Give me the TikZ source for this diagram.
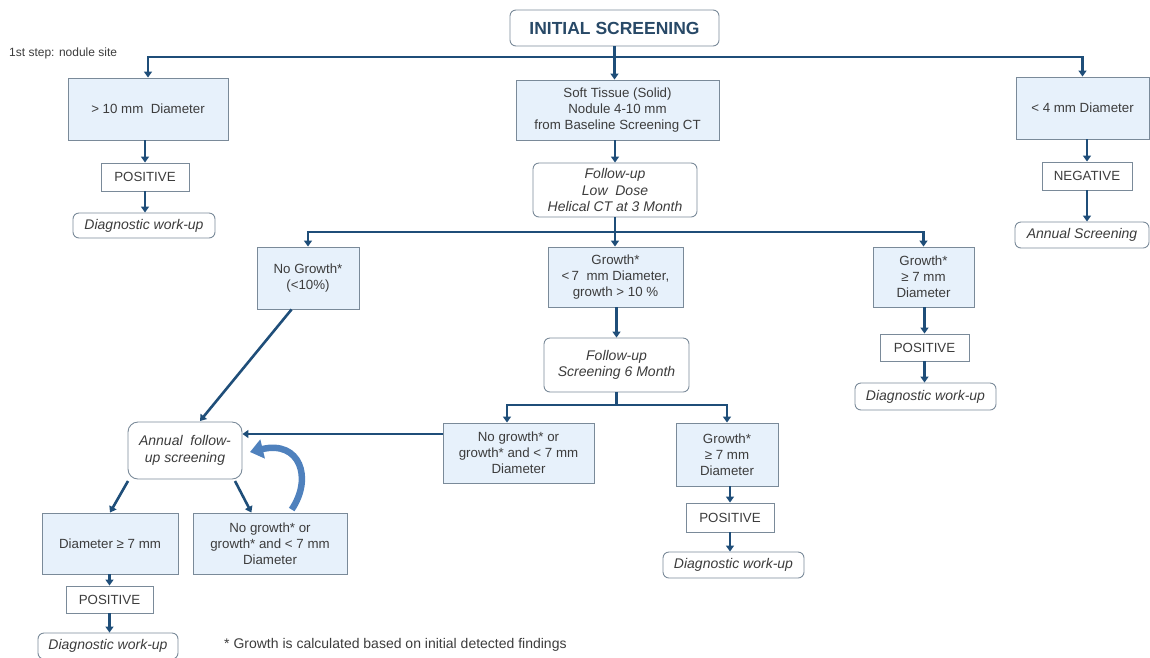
\documentclass[tikz,border=0pt]{standalone}
\usepackage{fontspec}
\setmainfont{Liberation Sans}
\usetikzlibrary{arrows.meta,calc}
\definecolor{flow}{HTML}{1F4E79}
\definecolor{boxline}{HTML}{7A8A99}
\definecolor{boxfill}{HTML}{E7F1FB}
\definecolor{ink}{HTML}{3C3C3C}
\definecolor{loopblue}{HTML}{4F81BD}
\begin{document}
\begin{tikzpicture}[x=1pt,y=-1pt,
  every node/.style={text=ink,font=\fontsize{13.3}{16}\selectfont,inner sep=0pt,align=center},
  bluebox/.style={draw=boxline,fill=boxfill,line width=0.9pt},
  plainbox/.style={draw=boxline,fill=white,line width=0.9pt},
  roundbox/.style={draw=boxline,fill=white,line width=0.9pt,rounded corners=6pt},
  note/.style={font=\itshape\fontsize{14}{16.5}\selectfont},
  arr/.style={draw=flow,line width=2.6pt,-{Triangle[width=8pt,length=6pt]}},
  plainline/.style={draw=flow,line width=2.6pt},
  sz/.style 2 args={minimum width=#1pt,minimum height=#2pt}]
\useasboundingbox (0,0) rectangle (1150,657);

% title and step label
\node[roundbox,sz={209}{36},font=\bfseries\fontsize{17.5}{20}\selectfont,text=flow!70!ink] (init) at (614.5,28) {INITIAL SCREENING};
\node[font=\fontsize{12}{14}\selectfont,anchor=west] (step) at (9,53) {1st step: nodule site};

% first level
\node[bluebox,sz={160}{62}] (big) at (148,109) {{>} 10 mm\ \ Diameter};
\node[plainbox,sz={88}{28}] (pos1) at (145,177) {POSITIVE};
\node[roundbox,sz={142}{25},note] (diag1) at (144,225.5) {Diagnostic work-up};

\node[bluebox,sz={203}{60}] (soft) at (617.5,110) {Soft Tissue (Solid)\\Nodule 4-10 mm\\from Baseline Screening CT};
\node[roundbox,sz={164}{54},note] (fu) at (615,190) {Follow-up\\Low\ \ Dose\\Helical CT at 3 Month};

\node[bluebox,sz={133}{62}] (small) at (1082.5,108) {{<} 4 mm Diameter};
\node[plainbox,sz={90}{28}] (neg) at (1087,176) {NEGATIVE};
\node[roundbox,sz={134}{26},note] (annS) at (1082,235) {Annual Screening};

% second level
\node[bluebox,sz={102}{62}] (nog) at (308,278) {No Growth*\\({<}10\%)};
\node[bluebox,sz={135}{60}] (g7) at (615.5,277) {Growth*\\{<}\,7\ \ mm Diameter,\\growth {>} 10 \%};
\node[roundbox,sz={145}{54},note] (fu6) at (616.5,365) {Follow-up\\Screening 6 Month};
\node[bluebox,sz={101}{60}] (gge) at (923.5,277) {Growth*\\≥ 7 mm\\Diameter};
\node[plainbox,sz={89}{27}] (pos2) at (924.5,347.5) {POSITIVE};
\node[roundbox,sz={141}{27},note] (diag2) at (925.5,396.5) {Diagnostic work-up};

% third level
\node[bluebox,sz={151}{60}] (nogm) at (518.5,453) {No growth* or\\growth* and {<} 7 mm\\Diameter};
\node[bluebox,sz={102}{63}] (gge2) at (727,454.5) {Growth*\\≥ 7 mm\\Diameter};
\node[plainbox,sz={88}{29}] (pos3) at (730,517.5) {POSITIVE};
\node[roundbox,sz={141}{26},note] (diag3) at (733.5,565) {Diagnostic work-up};

% annual follow-up loop
\node[roundbox,rounded corners=10pt,sz={114}{57},note] (annual) at (185,450.5) {Annual\ \ follow-\\up screening};
\node[bluebox,sz={136}{61}] (dia) at (110,543.5) {Diameter ≥ 7 mm};
\node[bluebox,sz={154}{61}] (nogl) at (270,543.5) {No growth* or\\growth* and {<} 7 mm\\Diameter};
\node[plainbox,sz={87}{27}] (pos4) at (109.5,599.5) {POSITIVE};
\node[roundbox,sz={140}{26},note] (diag4) at (108,646) {Diagnostic work-up};

\node[font=\fontsize{14}{16}\selectfont,anchor=west] (foot) at (224,645) {* Growth is calculated based on initial detected findings};

% connectors: first level
\coordinate (bus1) at (615,57);
\draw[arr] (init.south) -- (init.south |- soft.north);
\draw[arr] (bus1) -| (big.north);
\draw[arr] (bus1) -| (small.north);
\draw[arr] (big.south -| pos1.north) -- (pos1.north);
\draw[arr] (pos1.south) -- (pos1.south |- diag1.north);
\draw[arr] (soft.south -| fu.north) -- (fu.north);
\draw[arr] (small.south -| neg.north) -- (neg.north);
\draw[arr] (neg.south) -- (neg.south |- annS.north);

% connectors: second level
\coordinate (bus2) at (615,232);
\draw[arr] (fu.south) -- (g7.north -| fu.south);
\draw[arr] (bus2) -| (nog.north);
\draw[arr] (bus2) -| (gge.north);
\draw[arr] (g7.south -| fu6.north) -- (fu6.north);
\draw[arr] (gge.south -| pos2.north) -- (pos2.north);
\draw[arr] (pos2.south) -- (pos2.south |- diag2.north);

% connectors: third level
\coordinate (bus3) at (616.5,405);
\draw[plainline] (fu6.south) -- (bus3);
\draw[arr] (bus3) -| (507,0 |- nogm.north);
\draw[arr] (bus3) -| (gge2.north);
\draw[arr] (gge2.south -| pos3.north) -- (pos3.north);
\draw[arr] (pos3.south) -- (pos3.south |- diag3.north);
\draw[arr] (nogm.west |- 0,434) -- (annual.east |- 0,434);

% connectors: annual follow-up
\draw[arr] ($(nog.south west)!0.34!(nog.south east)$) -- (200,421);
\draw[arr] (128,481) -- (dia.north);
\draw[arr] (235,481) -- ($(nogl.north west)!0.38!(nogl.north east)$);
\draw[arr] (dia.south -| pos4.north) -- (pos4.north);
\draw[arr] (pos4.south) -- (pos4.south |- diag4.north);
\draw[loopblue,line width=6.5pt,-{Triangle[width=19pt,length=13pt]}]
  ($(nogl.north west)!0.64!(nogl.north east)+(0,-3)$) .. controls (313,478) and (300,440) .. (250,452);
\end{tikzpicture}
\end{document}
